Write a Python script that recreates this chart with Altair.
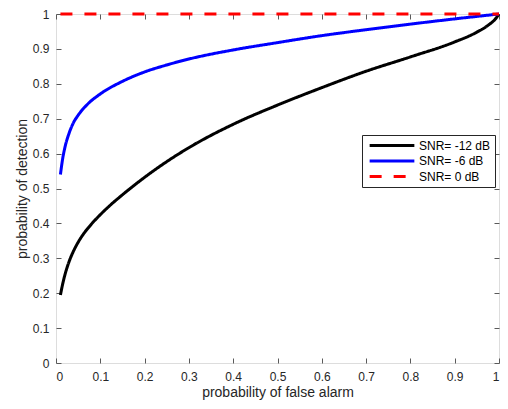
import altair as alt
import pandas as pd

# ---- data ----
series_names = ["SNR= -12 dB", "SNR= -6 dB", "SNR= 0 dB"]

pfa_m12 = [0.01, 0.015, 0.02, 0.03, 0.04, 0.05, 0.06, 0.08, 0.1, 0.125, 0.15, 0.2, 0.25, 0.3, 0.4, 0.5,
           0.6, 0.7, 0.8, 0.9, 0.95, 0.98, 0.99, 1.0]
pd_m12 = [0.195, 0.226, 0.252, 0.292, 0.322, 0.346, 0.366, 0.398, 0.425, 0.455, 0.482, 0.532, 0.577, 0.617,
          0.684, 0.739, 0.789, 0.836, 0.877, 0.92, 0.948, 0.972, 0.983, 1.0]

pfa_m6 = [0.01, 0.015, 0.02, 0.03, 0.04, 0.05, 0.07, 0.1, 0.15, 0.2, 0.25, 0.3, 0.4, 0.5,
          0.6, 0.7, 0.8, 0.9, 1.0]
pd_m6 = [0.54, 0.585, 0.617, 0.66, 0.69, 0.71, 0.74, 0.771, 0.807, 0.834, 0.854, 0.871, 0.897, 0.918,
         0.938, 0.955, 0.971, 0.986, 1.0]

pfa_0 = [0.01, 1.0]
pd_0 = [1.0, 1.0]

tick_vals = [0, 0.1, 0.2, 0.3, 0.4, 0.5, 0.6, 0.7, 0.8, 0.9, 1]

rows = []
for name, xs, ys in zip(series_names, [pfa_m12, pfa_m6, pfa_0], [pd_m12, pd_m6, pd_0]):
    for x, y in zip(xs, ys):
        rows.append({"pfa": x, "pd": y, "series": name})
df = pd.DataFrame(rows)

FONT = "Liberation Sans"
TXT = "#262626"
AX = "#5a5a5a"

xscale = alt.Scale(domain=[0, 1], nice=False)
yscale = alt.Scale(domain=[0, 1], nice=False)

legend_opts = dict(
    title=None,
    orient="none",
    legendX=306,
    legendY=121,
    symbolType="stroke",
    symbolSize=2000,
    symbolStrokeWidth=3,
    symbolOffset=2,
    labelFontSize=12,
    labelFont=FONT,
    labelColor="#000000",
    strokeColor="#262626",
    fillColor="white",
    padding=4,
    labelOffset=3,
    rowPadding=2.5,
    clipHeight=13,
)

color = alt.Color(
    "series:N",
    scale=alt.Scale(domain=series_names, range=["#000000", "#0000ff", "#ff0000"]),
    legend=alt.Legend(**legend_opts),
)
dash = alt.StrokeDash(
    "series:N",
    scale=alt.Scale(domain=series_names, range=[[1, 0], [1, 0], [12, 12]]),
    legend=alt.Legend(**legend_opts),
)

lines = alt.Chart(df).mark_line(strokeWidth=3, interpolate="monotone", clip=False).encode(
    x=alt.X(
        "pfa:Q",
        scale=xscale,
        title="probability of false alarm",
        axis=alt.Axis(
            orient="bottom", values=tick_vals, format="~g", offset=-5, tickSize=5,
            domain=False, tickColor=AX, labelPadding=8, labelFontSize=12, labelFont=FONT,
            labelColor=TXT, titleFontSize=14, titleFont=FONT, titleColor=TXT,
            titleFontWeight="normal", titleY=38, titleBaseline="alphabetic", grid=False,
        ),
    ),
    y=alt.Y(
        "pd:Q",
        scale=yscale,
        title="probability of detection",
        axis=alt.Axis(
            orient="left", values=tick_vals, format="~g", offset=-5, tickSize=5,
            domain=False, tickColor=AX, labelPadding=7, labelFontSize=12, labelFont=FONT,
            labelColor=TXT, titleFontSize=14, titleFont=FONT, titleColor=TXT,
            titleFontWeight="normal", titleX=-35, titleBaseline="alphabetic", grid=False,
        ),
    ),
    color=color,
    strokeDash=dash,
    order=alt.Order("series:N"),
)

frame = alt.Chart(df).mark_point(opacity=0).encode(
    x=alt.X(
        "pfa:Q", scale=xscale, title=None,
        axis=alt.Axis(orient="top", values=tick_vals, labels=False, offset=-5, tickSize=5,
                      domain=False, tickColor=AX, grid=False),
    ),
    y=alt.Y(
        "pd:Q", scale=yscale, title=None,
        axis=alt.Axis(orient="right", values=tick_vals, labels=False, offset=-5, tickSize=5,
                      domain=False, tickColor=AX, grid=False),
    ),
)

chart = (
    alt.layer(frame, lines)
    .resolve_axis(x="independent", y="independent")
    .properties(
        width=443,
        height=349,
        autosize=alt.AutoSizeParams(type="none"),
        padding={"left": 48, "top": 6, "right": 1, "bottom": 38},
    )
    .configure_view(stroke=AX, strokeWidth=1)
    .configure(background="white")
)

chart.save("out.html", embed_options={"renderer": "svg", "actions": False})
